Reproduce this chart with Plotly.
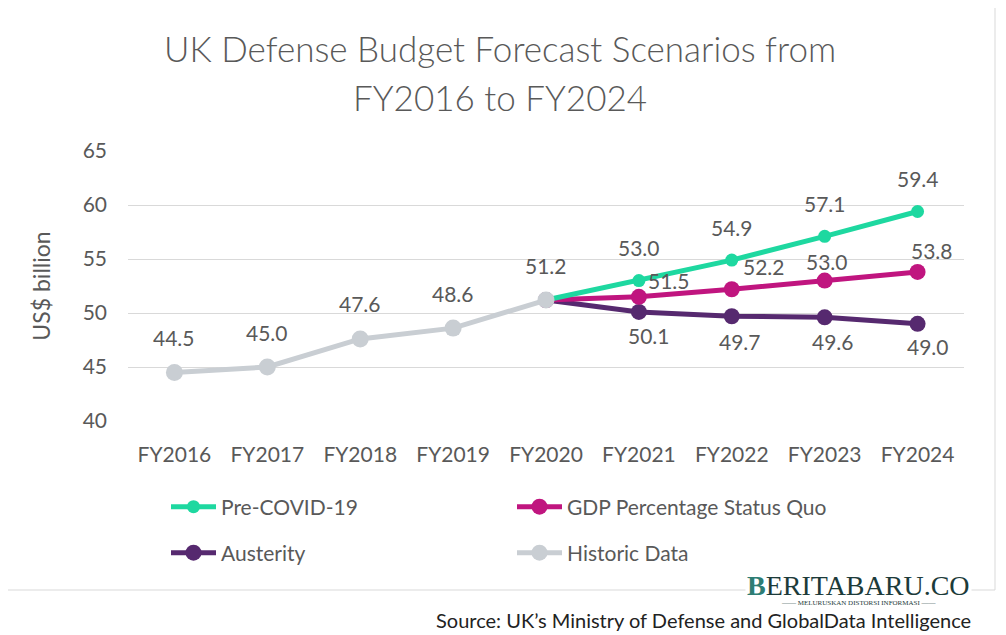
import plotly.graph_objects as go

years = ["FY2016", "FY2017", "FY2018", "FY2019", "FY2020", "FY2021", "FY2022", "FY2023", "FY2024"]
historic = [44.5, 45.0, 47.6, 48.6, 51.2, None, None, None, None]
pre_covid = [None, None, None, None, 51.2, 53.0, 54.9, 57.1, 59.4]
gdp_quo = [None, None, None, None, 51.2, 51.5, 52.2, 53.0, 53.8]
austerity = [None, None, None, None, 51.2, 50.1, 49.7, 49.6, 49.0]

GRAY_TXT = "#595959"
FONT = "Lato"

# label style offsets (pixels) per series
label_cfg = {
    "Historic Data": dict(vals=historic, skip=[], dx=[0]*9, dy=[35]*9),
    "Pre-COVID-19": dict(vals=pre_covid, skip=[4], dx=[0]*9, dy=[33]*9),
    "GDP Percentage Status Quo": dict(vals=gdp_quo, skip=[4], dx=[0, 0, 0, 0, 0, 30, 32, 2, 14], dy=[0, 0, 0, 0, 0, 16, 23, 19, 21]),
    "Austerity": dict(vals=austerity, skip=[4], dx=[0, 0, 0, 0, 0, 10, 8, 8, 10], dy=[0, 0, 0, 0, 0, -24, -25, -24, -23]),
}

fig = go.Figure()

series = [
    ("Austerity", austerity, "#56296F", 16, 3, "legend2"),
    ("GDP Percentage Status Quo", gdp_quo, "#C0157F", 16, 2, "legend"),
    ("Pre-COVID-19", pre_covid, "#1ED8A0", 13, 1, "legend"),
    ("Historic Data", historic, "#C9CED3", 17, 4, "legend2"),
]
for name, vals, color, msize, rank, leg in series:
    fig.add_trace(go.Scatter(
        x=years, y=vals, name=name, mode="lines+markers",
        line=dict(color=color, width=5),
        marker=dict(color=color, size=msize),
        legendrank=rank, legend=leg, connectgaps=False,
        hoverinfo="skip",
    ))

for name, cfg in label_cfg.items():
    for i, v in enumerate(cfg["vals"]):
        if v is None or i in cfg["skip"]:
            continue
        fig.add_annotation(
            x=years[i], y=v, text=f"{v:.1f}", showarrow=False,
            xshift=cfg["dx"][i], yshift=cfg["dy"][i],
            font=dict(family=FONT, size=21, color=GRAY_TXT),
        )


def px(xp):
    return (xp - 128) / 836


def py(yp):
    return (421 - yp) / 270


# title (two lines)
for txt, yp in [("UK Defense Budget Forecast Scenarios from", 48), ("FY2016 to FY2024", 97)]:
    fig.add_annotation(
        xref="paper", yref="paper", x=px(500), y=py(yp), xanchor="center", yanchor="middle",
        showarrow=False, text=txt,
        font=dict(family=FONT, size=35, color=GRAY_TXT, weight=300),
    )

# source and logo
fig.add_annotation(
    xref="paper", yref="paper", x=px(973), y=py(620),
    xanchor="right", yanchor="middle", showarrow=False,
    text="Source: UK\u2019s Ministry of Defense and GlobalData Intelligence",
    font=dict(family=FONT, size=20, color="#222222"),
)
fig.add_annotation(
    xref="paper", yref="paper", x=px(858), y=py(585),
    xanchor="center", yanchor="middle", showarrow=False,
    text="<span style='color:#2E7D74'><b>B</b></span>ERITABARU.CO", bgcolor="white",
    font=dict(family="Liberation Serif", size=28, color="#1C3B3A"),
)
fig.add_annotation(
    xref="paper", yref="paper", x=px(858), y=py(603),
    xanchor="center", yanchor="middle", showarrow=False,
    text="\u2014\u2014 MELURUSKAN DISTORSI INFORMASI \u2014\u2014",
    font=dict(family="Liberation Serif", size=7, color="#1C3B3A"),
)

fig.add_shape(
    type="rect", xref="paper", yref="paper",
    x0=px(5), x1=px(995), y0=py(590), y1=py(5),
    line=dict(color="#D9D9D9", width=1), layer="below",
)

legend_common = dict(
    orientation="h", xanchor="left", yanchor="middle",
    font=dict(family=FONT, size=21, color=GRAY_TXT),
    entrywidth=286, itemwidth=45, bgcolor="rgba(0,0,0,0)",
)

fig.update_layout(
    width=998, height=627,
    margin=dict(l=120, r=42, t=143, b=214),
    paper_bgcolor="white", plot_bgcolor="white",
    font=dict(family=FONT, color=GRAY_TXT),
    xaxis=dict(
        type="category", range=[-0.5, 8.5], showgrid=False, showline=False,
        tickfont=dict(family=FONT, size=21, color=GRAY_TXT), ticks="",
        ticklabelstandoff=19,
    ),
    yaxis=dict(
        range=[40, 65], dtick=5, showgrid=True, gridcolor="#D9D9D9", gridwidth=1,
        zeroline=False, showline=False, ticks="",
        tickfont=dict(family=FONT, size=21, color=GRAY_TXT),
        ticklabelstandoff=20,
        title=dict(text="US$ billion", font=dict(family=FONT, size=23, color=GRAY_TXT), standoff=25),
    ),
    legend=dict(x=px(166), y=py(507), **legend_common),
    legend2=dict(x=px(166), y=py(553), **legend_common),
    showlegend=True,
)

fig.write_html("out.html")
